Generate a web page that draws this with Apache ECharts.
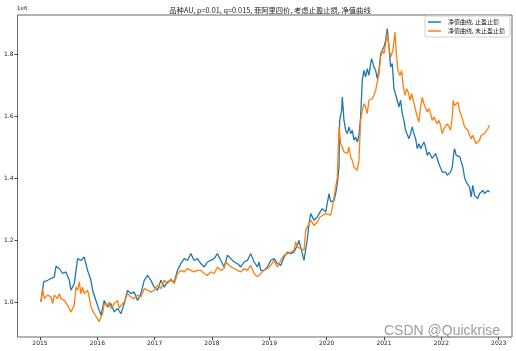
<!DOCTYPE html>
<html>
<head>
<meta charset="utf-8">
<script src="https://cdn.jsdelivr.net/npm/echarts@6/dist/echarts.min.js"></script>
<style>
  html, body { margin: 0; padding: 0; background: #fff; }
  #chart { width: 516px; height: 351px; }
</style>
</head>
<body>
<div id="chart"></div>
<script>
// x 轴刻度（年份）
const yearTicks = [2015, 2016, 2017, 2018, 2019, 2020, 2021, 2022, 2023]
// y 轴刻度（单位 1e6）
const valueTicks = [1.0, 1.2, 1.4, 1.6, 1.8]

// 净值曲线, 止盈止损（蓝）
const blueT = [
  2015.017, 2015.064, 2015.134, 2015.250, 2015.279, 2015.337, 2015.395, 2015.453, 2015.511, 2015.540,
  2015.598, 2015.656, 2015.714, 2015.772, 2015.830, 2015.889, 2015.918, 2015.976, 2016.034, 2016.063,
  2016.121, 2016.179, 2016.237, 2016.295, 2016.353, 2016.411, 2016.469, 2016.527, 2016.585, 2016.643,
  2016.702, 2016.760, 2016.818, 2016.876, 2016.934, 2016.992, 2017.050, 2017.108, 2017.166, 2017.224,
  2017.282, 2017.340, 2017.398, 2017.456, 2017.514, 2017.573, 2017.631, 2017.689, 2017.747, 2017.805,
  2017.863, 2017.921, 2017.979, 2018.037, 2018.095, 2018.153, 2018.211, 2018.270, 2018.328, 2018.386,
  2018.444, 2018.502, 2018.560, 2018.618, 2018.676, 2018.734, 2018.792, 2018.821, 2018.850, 2018.908,
  2018.966, 2019.024, 2019.082, 2019.141, 2019.199, 2019.257, 2019.315, 2019.373, 2019.431, 2019.489,
  2019.518, 2019.547, 2019.605, 2019.634, 2019.663, 2019.692, 2019.721, 2019.779, 2019.837, 2019.884,
  2019.925, 2019.983, 2020.041, 2020.070, 2020.128, 2020.157, 2020.186, 2020.215, 2020.226, 2020.261,
  2020.273, 2020.302, 2020.331, 2020.360, 2020.389, 2020.418, 2020.447, 2020.476, 2020.505, 2020.534,
  2020.563, 2020.592, 2020.621, 2020.650, 2020.679, 2020.708, 2020.737, 2020.767, 2020.784, 2020.825,
  2020.854, 2020.883, 2020.912, 2020.941, 2020.970, 2020.999, 2021.028, 2021.057, 2021.086, 2021.115,
  2021.144, 2021.173, 2021.231, 2021.260, 2021.289, 2021.318, 2021.347, 2021.376, 2021.405, 2021.434,
  2021.463, 2021.492, 2021.521, 2021.551, 2021.580, 2021.609, 2021.638, 2021.667, 2021.696, 2021.725,
  2021.754, 2021.783, 2021.812, 2021.841, 2021.870, 2021.899, 2021.928, 2021.957, 2021.986, 2022.015,
  2022.044, 2022.073, 2022.103, 2022.132, 2022.161, 2022.190, 2022.219, 2022.230, 2022.259, 2022.288,
  2022.323, 2022.346, 2022.375, 2022.404, 2022.433, 2022.462, 2022.491, 2022.520, 2022.549, 2022.578,
  2022.607, 2022.636, 2022.666, 2022.695, 2022.724, 2022.753, 2022.782, 2022.811, 2022.840
]
const blueV = [
  1.001, 1.066, 1.071, 1.082, 1.116, 1.109, 1.093, 1.098, 1.071, 1.039,
  1.060, 1.141, 1.135, 1.146, 1.103, 1.071, 1.039, 1.006, 0.974, 0.958,
  1.006, 0.985, 0.996, 0.969, 0.980, 0.963, 0.996, 1.039, 1.028, 1.033,
  1.006, 1.028, 1.071, 1.087, 1.071, 1.049, 1.039, 1.071, 1.049, 1.066,
  1.071, 1.066, 1.103, 1.125, 1.141, 1.135, 1.157, 1.135, 1.141, 1.125,
  1.114, 1.130, 1.135, 1.141, 1.157, 1.135, 1.114, 1.152, 1.141, 1.130,
  1.125, 1.114, 1.130, 1.135, 1.157, 1.130, 1.114, 1.130, 1.103, 1.103,
  1.114, 1.135, 1.141, 1.125, 1.119, 1.146, 1.162, 1.157, 1.162, 1.184,
  1.200, 1.178, 1.135, 1.130, 1.205, 1.254, 1.286, 1.265, 1.275, 1.291,
  1.302, 1.291, 1.351, 1.324, 1.329, 1.351, 1.383, 1.436, 1.587, 1.619,
  1.662, 1.587, 1.555, 1.544, 1.566, 1.544, 1.555, 1.523, 1.533, 1.517,
  1.539, 1.598, 1.716, 1.748, 1.727, 1.754, 1.732, 1.770, 1.786, 1.759,
  1.748, 1.722, 1.748, 1.802, 1.813, 1.824, 1.845, 1.883, 1.824, 1.759,
  1.770, 1.689, 1.652, 1.630, 1.652, 1.609, 1.587, 1.555, 1.560, 1.528,
  1.544, 1.566, 1.544, 1.528, 1.496, 1.512, 1.496, 1.506, 1.517, 1.501,
  1.474, 1.485, 1.480, 1.464, 1.458, 1.480, 1.464, 1.447, 1.442, 1.420,
  1.415, 1.420, 1.410, 1.415, 1.420, 1.436, 1.485, 1.496, 1.474, 1.480,
  1.469, 1.453, 1.436, 1.404, 1.388, 1.383, 1.372, 1.340, 1.377, 1.345,
  1.340, 1.335, 1.351, 1.345, 1.361, 1.351, 1.345, 1.361, 1.356
]

// 净值曲线, 未止盈止损（橙）
const orangeT = [
  2015.017, 2015.046, 2015.075, 2015.134, 2015.192, 2015.221, 2015.250, 2015.308, 2015.337, 2015.366,
  2015.424, 2015.482, 2015.511, 2015.540, 2015.598, 2015.627, 2015.656, 2015.685, 2015.714, 2015.743,
  2015.772, 2015.830, 2015.859, 2015.889, 2015.918, 2015.947, 2016.005, 2016.034, 2016.063, 2016.092,
  2016.121, 2016.179, 2016.208, 2016.237, 2016.295, 2016.353, 2016.382, 2016.411, 2016.469, 2016.527,
  2016.585, 2016.643, 2016.702, 2016.760, 2016.818, 2016.876, 2016.934, 2016.992, 2017.050, 2017.108,
  2017.166, 2017.224, 2017.282, 2017.340, 2017.398, 2017.456, 2017.514, 2017.573, 2017.631, 2017.689,
  2017.747, 2017.805, 2017.863, 2017.921, 2017.979, 2018.037, 2018.095, 2018.153, 2018.211, 2018.240,
  2018.270, 2018.328, 2018.386, 2018.444, 2018.502, 2018.560, 2018.618, 2018.676, 2018.734, 2018.792,
  2018.850, 2018.908, 2018.966, 2019.024, 2019.082, 2019.141, 2019.199, 2019.257, 2019.315, 2019.373,
  2019.431, 2019.460, 2019.489, 2019.547, 2019.605, 2019.634, 2019.663, 2019.721, 2019.779, 2019.837,
  2019.884, 2019.983, 2020.070, 2020.099, 2020.157, 2020.186, 2020.215, 2020.244, 2020.273, 2020.302,
  2020.331, 2020.360, 2020.389, 2020.418, 2020.447, 2020.476, 2020.505, 2020.534, 2020.563, 2020.592,
  2020.621, 2020.650, 2020.679, 2020.708, 2020.737, 2020.767, 2020.796, 2020.825, 2020.854, 2020.883,
  2020.912, 2020.941, 2020.970, 2020.999, 2021.028, 2021.057, 2021.086, 2021.115, 2021.156, 2021.190,
  2021.220, 2021.243, 2021.278, 2021.307, 2021.336, 2021.365, 2021.394, 2021.423, 2021.452, 2021.481,
  2021.510, 2021.551, 2021.580, 2021.609, 2021.638, 2021.667, 2021.696, 2021.725, 2021.754, 2021.783,
  2021.812, 2021.841, 2021.870, 2021.899, 2021.928, 2021.957, 2021.986, 2022.015, 2022.044, 2022.073,
  2022.103, 2022.132, 2022.161, 2022.190, 2022.207, 2022.230, 2022.259, 2022.288, 2022.317, 2022.346,
  2022.375, 2022.404, 2022.433, 2022.462, 2022.491, 2022.520, 2022.549, 2022.578, 2022.607, 2022.636,
  2022.666, 2022.695, 2022.724, 2022.753, 2022.782, 2022.811, 2022.840
]
const orangeV = [
  1.006, 1.044, 1.012, 1.023, 1.017, 0.996, 1.023, 1.012, 1.028, 1.012,
  1.006, 0.990, 0.980, 0.969, 0.990, 1.049, 1.039, 1.066, 1.028, 1.049,
  1.028, 1.039, 1.017, 0.985, 0.974, 0.963, 0.947, 0.937, 0.953, 0.963,
  0.996, 0.990, 1.001, 0.980, 0.996, 1.006, 0.980, 0.990, 1.001, 1.028,
  1.017, 1.012, 1.023, 1.017, 1.044, 1.039, 1.033, 1.039, 1.055, 1.044,
  1.071, 1.060, 1.076, 1.060, 1.093, 1.103, 1.098, 1.109, 1.103, 1.098,
  1.103, 1.103, 1.093, 1.087, 1.098, 1.093, 1.114, 1.103, 1.109, 1.130,
  1.125, 1.114, 1.109, 1.103, 1.098, 1.109, 1.103, 1.119, 1.093, 1.082,
  1.093, 1.103, 1.109, 1.119, 1.135, 1.114, 1.135, 1.152, 1.157, 1.162,
  1.168, 1.195, 1.178, 1.173, 1.168, 1.232, 1.238, 1.265, 1.248, 1.259,
  1.275, 1.286, 1.281, 1.307, 1.372, 1.404, 1.566, 1.512, 1.501, 1.485,
  1.490, 1.480, 1.501, 1.469, 1.458, 1.436, 1.431, 1.426, 1.458, 1.587,
  1.619, 1.641, 1.630, 1.609, 1.652, 1.646, 1.657, 1.668, 1.684, 1.711,
  1.738, 1.791, 1.813, 1.802, 1.834, 1.867, 1.824, 1.791, 1.813, 1.872,
  1.791, 1.748, 1.732, 1.748, 1.695, 1.668, 1.689, 1.678, 1.652, 1.673,
  1.652, 1.619, 1.598, 1.582, 1.630, 1.662, 1.641, 1.635, 1.614, 1.625,
  1.609, 1.587, 1.598, 1.587, 1.576, 1.587, 1.571, 1.544, 1.560, 1.555,
  1.576, 1.566, 1.555, 1.598, 1.652, 1.635, 1.641, 1.646, 1.619, 1.603,
  1.587, 1.566, 1.560, 1.555, 1.539, 1.528, 1.539, 1.523, 1.512, 1.517,
  1.523, 1.539, 1.533, 1.544, 1.549, 1.560, 1.571
]

const seriesNames = ['净值曲线, 止盈止损', '净值曲线, 未止盈止损']
const titleText = '品种AU, p=0.01, q=0.015, 菲阿里四价, 考虑止盈止损, 净值曲线'

const cjkFont = '"Noto Sans CJK SC", "DejaVu Sans", sans-serif'
const chart = echarts.init(document.getElementById('chart'), null, { renderer: 'canvas' })

const option = {
  animation: false,
  backgroundColor: '#fff',
  title: {
    text: titleText,
    left: 265,
    top: 2,
    textAlign: 'center',
    textStyle: { fontFamily: cjkFont, fontSize: 7.3, fontWeight: 'normal', color: '#222' },
  },
  legend: {
    orient: 'vertical',
    right: 6,
    top: 16,
    data: seriesNames,
    icon: 'rect',
    itemWidth: 13,
    itemHeight: 1.5,
    itemGap: 3,
    padding: [3, 5, 3, 3],
    borderColor: '#d0d0d0',
    borderWidth: 1,
    borderRadius: 2,
    backgroundColor: 'rgba(255,255,255,0.8)',
    textStyle: { fontFamily: cjkFont, fontSize: 6, color: '#222', padding: [0, 0, 0, 2] },
  },
  grid: {
    left: 17.5,
    right: 4,
    top: 15,
    bottom: 14,
    show: true,
    borderColor: '#666',
    borderWidth: 1,
  },
  xAxis: {
    type: 'value',
    min: 2014.608,
    max: 2023.232,
    axisLine: { show: false },
    splitLine: { show: false },
    axisTick: { show: true, inside: false, length: 3, customValues: yearTicks, lineStyle: { color: '#444' } },
    axisLabel: {
      customValues: yearTicks,
      fontSize: 6,
      margin: 3,
      color: '#222',
      fontFamily: 'DejaVu Sans',
      formatter: (v) => String(Math.round(v)),
    },
  },
  yAxis: {
    type: 'value',
    min: 0.888,
    max: 1.927,
    axisLine: { show: false },
    splitLine: { show: false },
    axisTick: { show: true, inside: false, length: 3, customValues: valueTicks, lineStyle: { color: '#444' } },
    axisLabel: {
      customValues: valueTicks,
      fontSize: 6,
      margin: 4,
      color: '#222',
      fontFamily: 'DejaVu Sans',
      formatter: (v) => v.toFixed(1),
    },
  },
  graphic: [
    {
      type: 'text',
      left: 17,
      top: 6,
      style: { text: '1e6', fontSize: 5.5, fill: '#222', fontFamily: 'DejaVu Sans' },
    },
    {
      type: 'text',
      left: 384,
      top: 324,
      z: 100,
      style: { text: 'CSDN @Quickrise', fontSize: 14, fill: 'rgba(140,140,140,0.85)', fontFamily: '"Liberation Sans", Arial, sans-serif' },
    },
  ],
  series: [
    {
      name: seriesNames[0],
      type: 'line',
      showSymbol: false,
      symbol: 'none',
      color: '#1f77b4',
      lineStyle: { width: 1.3, color: '#1f77b4' },
      data: blueT.map((t, i) => [t, blueV[i]]),
    },
    {
      name: seriesNames[1],
      type: 'line',
      showSymbol: false,
      symbol: 'none',
      color: '#ff7f0e',
      lineStyle: { width: 1.3, color: '#ff7f0e' },
      data: orangeT.map((t, i) => [t, orangeV[i]]),
    },
  ],
}
chart.setOption(option)
</script>
</body>
</html>
